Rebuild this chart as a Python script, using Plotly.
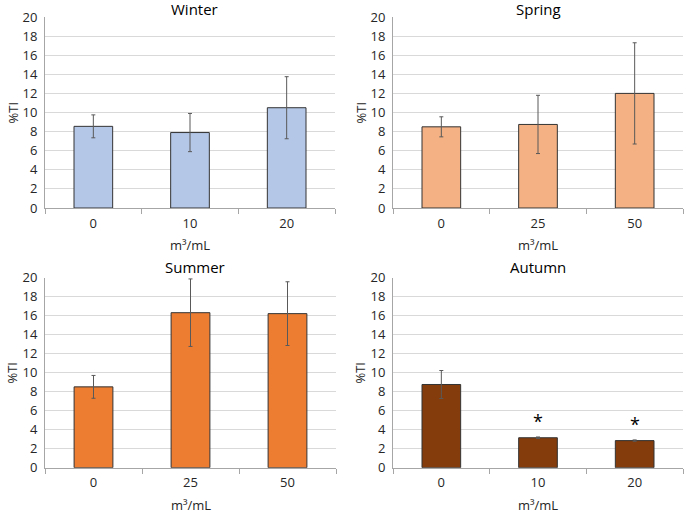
import plotly.graph_objects as go

seasons = ["Winter", "Spring", "Summer", "Autumn"]
doses = {
    "Winter": ["0", "10", "20"],
    "Spring": ["0", "25", "50"],
    "Summer": ["0", "25", "50"],
    "Autumn": ["0", "10", "20"],
}
means = {
    "Winter": [8.55, 7.9, 10.5],
    "Spring": [8.5, 8.75, 12.0],
    "Summer": [8.5, 16.3, 16.2],
    "Autumn": [8.75, 3.15, 2.85],
}
errors = {
    "Winter": [1.2, 2.0, 3.25],
    "Spring": [1.05, 3.05, 5.3],
    "Summer": [1.2, 3.55, 3.35],
    "Autumn": [1.47, 0.08, 0.07],
}
signif = {
    "Winter": ["", "", ""],
    "Spring": ["", "", ""],
    "Summer": ["", "", ""],
    "Autumn": ["", "*", "*"],
}
colors = {
    "Winter": "#B4C7E7",
    "Spring": "#F4B183",
    "Summer": "#ED7D31",
    "Autumn": "#843C0C",
}
x_label = "m³/mL"
y_label = "%TI"
y_ticks = list(range(0, 21, 2))

W, H = 685, 513
# plot area pixel boxes: (left, right, top, bottom)
boxes = {
    "Winter": (45, 335, 17, 208),
    "Spring": (393, 683, 17, 208),
    "Summer": (45, 336, 277.5, 467.7),
    "Autumn": (393, 683, 277.5, 467.7),
}
FONT = "Open Sans"

fig = go.Figure()
annotations = []
layout = {}
for i, s in enumerate(seasons):
    n = "" if i == 0 else str(i + 1)
    xa, ya = "x" + n, "y" + n
    l, r, t, b = boxes[s]
    fig.add_trace(go.Bar(
        x=doses[s], y=means[s], xaxis=xa, yaxis=ya,
        marker=dict(color=colors[s], line=dict(color="#333333", width=1)),
        width=0.4,
        error_y=dict(type="data", array=errors[s], visible=True,
                     color="#595959", thickness=1, width=2),
        showlegend=False, hoverinfo="skip",
    ))
    layout["xaxis" + n] = dict(
        domain=[l / W, r / W], anchor=ya, type="category",
        categoryorder="array", categoryarray=doses[s],
        range=[-0.5, len(doses[s]) - 0.5], automargin=False, tickangle=0,
        showline=True, linecolor="#A6A6A6", linewidth=1,
        ticks="outside", tickson="boundaries", ticklen=5, tickcolor="#A6A6A6",
        ticklabelstandoff=3,
        showgrid=False, tickfont=dict(family=FONT, size=13, color="#262626"),
        fixedrange=True,
    )
    layout["yaxis" + n] = dict(
        domain=[(H - b) / H, (H - t) / H], anchor=xa, range=[0, 20],
        automargin=False, ticklabelstandoff=4,
        tickvals=y_ticks, showline=True, linecolor="#A6A6A6", linewidth=1,
        showgrid=True, gridcolor="#D9D9D9", gridwidth=1, zeroline=False,
        ticks="", tickfont=dict(family=FONT, size=13, color="#262626"),
        fixedrange=True,
    )
    cx = (l + r) / 2
    title_y = max(t - 10.5, 9)
    annotations.append(dict(
        text=s, x=(cx + 4) / W if s in ("Winter", "Summer") else cx / W,
        y=(H - title_y) / H, xref="paper", yref="paper", borderpad=0,
        showarrow=False, font=dict(family=FONT, size=15, color="#000000"),
        xanchor="center", yanchor="middle",
    ))
    annotations.append(dict(
        text=x_label, x=cx / W, y=(H - (b + 37)) / H, xref="paper", yref="paper",
        showarrow=False, font=dict(family=FONT, size=13, color="#262626"),
        xanchor="center", yanchor="middle",
    ))
    annotations.append(dict(
        text=y_label, x=(l - 33) / W, y=(H - (t + b) / 2) / H, xref="paper",
        yref="paper", textangle=-90, showarrow=False,
        font=dict(family=FONT, size=13, color="#262626"),
        xanchor="center", yanchor="middle",
    ))
    for k, (m, e, sg) in enumerate(zip(means[s], errors[s], signif[s])):
        if sg:
            annotations.append(dict(
                text=sg, x=k, y=m + e, xref=xa, yref=ya, showarrow=False,
                yanchor="bottom", yshift=2,
                font=dict(family=FONT, size=18, color="#000000"),
            ))

fig.update_layout(
    width=W, height=H, margin=dict(l=0, r=0, t=0, b=0, autoexpand=False),
    paper_bgcolor="white", plot_bgcolor="white",
    annotations=annotations, **layout,
)
fig.write_html(
    "out.html",
    config={"displayModeBar": False, "staticPlot": True},
    post_script="document.body.style.margin='0px';document.body.style.overflow='hidden';",
)
